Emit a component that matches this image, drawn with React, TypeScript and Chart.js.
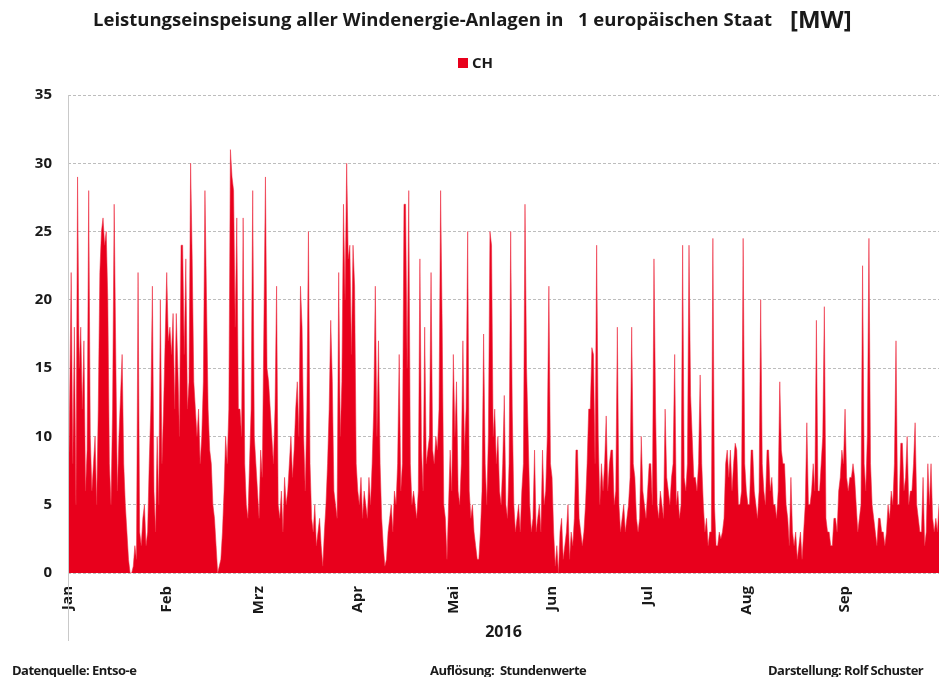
import React, { useEffect, useRef } from "react";
import { Chart, registerables } from "chart.js";

Chart.register(...registerables);

const chartTitle = "Leistungseinspeisung aller Windenergie-Anlagen in\u00a0\u00a0 1 europäischen Staat";
const unitLabel = "[MW]";
const seriesName = "CH";
const yearLabel = "2016";
const footerLeft = "Datenquelle: Entso-e";
const footerMid = "Auflösung:\u00a0 Stundenwerte";
const footerRight = "Darstellung: Rolf Schuster";

const monthLabels = ["Jan", "Feb", "Mrz", "Apr", "Mai", "Jun", "Jul", "Aug", "Sep"];
const monthStartDays = [0, 31, 60, 91, 121, 152, 182, 213, 244];
const periodEndDay = 273.5;
const yMin = 0;
const yMax = 35;
const yStep = 5;

// Two readings per day (first and second half of each day), MW
const jan = [
  3, 12, 22, 8, 18, 5, 29, 15, 18, 12, 17, 6, 9, 28, 10, 6, 8, 10, 5, 12,
  22, 25, 26, 24, 25, 20, 8, 5, 12, 27, 16, 6, 10, 13, 16, 8, 5, 3, 1, 0,
  0, 0.5, 2, 1, 22, 3, 2, 4, 5, 2, 3, 8, 12, 21, 6, 3, 10, 5, 20, 8,
  12, 17,
];
const feb = [
  22, 17, 18, 16, 19, 12, 19, 15, 10, 24, 24, 16, 23, 12, 14, 30, 23, 14, 12, 10,
  12, 8, 10, 14, 28, 20, 12, 9, 8, 5, 4, 2, 0, 0.5, 1, 3, 6, 10, 8, 12,
  31, 29, 28, 18, 26, 12, 12, 10, 26, 8, 5, 4, 8, 12, 28, 10, 8, 6,
];
const mar = [
  4, 9, 7, 18, 29, 15, 14, 12, 10, 8, 12, 21, 5, 4, 6, 3, 7, 5, 6, 8,
  10, 7, 9, 12, 14, 10, 21, 18, 10, 6, 12, 25, 8, 4, 3, 5, 2, 3, 4, 2,
  0.5, 3, 5, 8, 12, 18.5, 14, 6, 5, 4, 22, 10, 14, 27, 20, 30, 23, 24, 16, 24,
  21, 8,
];
const apr = [
  6, 5, 7, 4, 6, 5, 4, 7, 5, 8, 12, 21, 10, 17, 8, 4, 2, 0.5, 1, 3,
  4, 5, 3, 6, 5, 8, 16, 6, 8, 27, 27, 15, 28, 8, 5, 6, 5, 4, 6, 23,
  9, 6, 18, 8, 9, 10, 22, 9, 8, 10, 9, 12, 28, 18, 5, 4, 1, 5, 9, 6,
];
const mai = [
  16, 10, 14, 6, 5, 8, 17, 9, 12, 25, 6, 4, 5, 3, 2, 1, 1, 3, 6, 17.5,
  8, 5, 10, 25, 24, 10, 12, 8, 10, 6, 5, 8, 13, 5, 4, 8, 25, 12, 5, 3,
  4, 5, 3, 6, 8, 27, 15, 10, 5, 3, 4, 9, 3, 4, 5, 3, 9, 5, 6, 10,
  21, 8,
];
const jun = [
  7, 3, 0.5, 2, 0, 3, 4, 1, 2, 3, 5, 1, 3, 2, 4, 9, 9, 4, 3, 2,
  3, 5, 8, 12, 12, 16.5, 16, 8, 24, 10, 5, 8, 6, 8, 11.5, 6, 8, 9, 9, 5,
  6, 18, 5, 3, 4, 5, 3, 4, 5, 7, 18, 8, 7, 4, 3, 4, 10, 6, 5, 4,
];
const jul = [
  6, 8, 8, 5, 23, 12, 5, 4, 6, 5, 4, 12, 7, 6, 5, 7, 8, 16, 5, 6,
  4, 5, 24, 7, 6, 8, 24, 13, 10, 7, 7, 6, 8, 14.5, 8, 5, 3, 4, 2, 3,
  3, 24.5, 5, 2, 2, 3, 2.5, 3, 4, 8, 9, 7, 9, 6, 8, 9.5, 9, 5, 5, 6,
  24.5, 8,
];
const aug = [
  6, 5, 5, 9, 9, 6, 5, 4, 6, 20, 8, 6, 5, 9, 9, 6, 7, 5, 5, 4,
  6, 14, 9, 8, 8, 5, 4, 2, 7, 3, 2, 3, 1, 2, 3, 1, 3, 5, 11, 5,
  5, 6, 8, 6, 18.5, 6, 6, 8, 10, 19.5, 4, 3, 3, 2, 2, 4, 4, 3, 6, 7,
  9, 8,
];
const sep = [
  12, 7, 6, 7, 7, 8, 7, 5, 3, 4, 5, 22.5, 8, 6, 10, 24.5, 8, 5, 4, 3,
  2, 4, 4, 3, 3, 2, 3, 5, 4, 6, 5, 8, 17, 5, 5, 9.5, 9.5, 6, 7, 10,
  5, 6, 6, 8, 11, 5, 4, 3, 3, 7, 2, 3, 8, 5, 8, 4, 3, 4, 3, 5,
];

const monthSeries = [jan, feb, mar, apr, mai, jun, jul, aug, sep];

const FONT = '"Open Sans", "Liberation Sans", sans-serif';
const RED = "rgb(232, 0, 28)";

export default function App() {
  const canvasRef = useRef<HTMLCanvasElement | null>(null);

  useEffect(() => {
    document.body.style.margin = "0";
    const canvas = canvasRef.current;
    if (!canvas) return;

    const points = monthSeries.flatMap((arr, m) =>
      arr.map((v, i) => ({ x: monthStartDays[m] + i / 2, y: v }))
    );

    const axisLinePlugin = {
      id: "axisLine",
      afterDraw(chart: any) {
        const { ctx, chartArea } = chart;
        ctx.save();
        ctx.strokeStyle = "#c9c9c9";
        ctx.lineWidth = 1;
        ctx.beginPath();
        ctx.moveTo(Math.round(chartArea.left) + 0.5, chartArea.top);
        ctx.lineTo(Math.round(chartArea.left) + 0.5, chartArea.bottom + 68);
        ctx.stroke();
        ctx.restore();
      },
    };

    const chart = new Chart(canvas, {
      type: "line",
      data: {
        datasets: [
          {
            label: seriesName,
            data: points,
            fill: "origin",
            backgroundColor: RED,
            borderColor: "rgba(236, 40, 60, 0.55)",
            borderWidth: 1,
            pointRadius: 0,
            tension: 0,
          },
        ],
      },
      options: {
        animation: false,
        responsive: false,
        maintainAspectRatio: false,
        layout: { padding: { top: 95, left: 0, right: 0, bottom: 0 } },
        plugins: {
          legend: { display: false },
          title: { display: false },
          tooltip: { enabled: false },
        },
        scales: {
          x: {
            type: "linear",
            min: 0,
            max: periodEndDay,
            grid: { display: false },
            border: { display: false },
            afterBuildTicks: (scale: any) => {
              scale.ticks = monthStartDays.map((v) => ({ value: v }));
            },
            afterFit: (scale: any) => {
              scale.height = 104;
            },
            ticks: {
              autoSkip: false,
              minRotation: 90,
              maxRotation: 90,
              padding: 5,
              color: "#1a1a1a",
              font: { family: FONT, size: 15, weight: "bold" },
              callback: (value: any) => {
                const idx = monthStartDays.indexOf(Number(value));
                return idx >= 0 ? monthLabels[idx] : "";
              },
            },
            title: {
              display: true,
              text: yearLabel,
              color: "#1a1a1a",
              font: { family: FONT, size: 16, weight: "bold" },
              padding: { top: 0, bottom: 35 },
            },
          },
          y: {
            min: yMin,
            max: yMax,
            afterFit: (scale: any) => {
              scale.width = 68;
            },
            grid: {
              color: "#bdbdbd",
              lineWidth: 1,
              drawTicks: false,
            },
            border: { display: false, dash: [3, 2] },
            ticks: {
              stepSize: yStep,
              padding: 16,
              color: "#1a1a1a",
              font: { family: FONT, size: 15, weight: "bold" },
            },
          },
        },
      },
      plugins: [axisLinePlugin],
    } as any);

    return () => chart.destroy();
  }, []);

  const textBase: React.CSSProperties = {
    position: "absolute",
    whiteSpace: "nowrap",
    fontFamily: FONT,
    fontWeight: "bold",
    color: "#1a1a1a",
    lineHeight: 1,
  };
  const footerStyle: React.CSSProperties = { ...textBase, top: 664, fontSize: 13, letterSpacing: "-0.5px" };

  return (
    <div style={{ position: "relative", width: 939, height: 677, overflow: "hidden", background: "#fff" }}>
      <canvas ref={canvasRef} width={939} height={677} style={{ position: "absolute", left: 0, top: 0, width: 939, height: 677 }} />
      <div style={{ ...textBase, left: 93, top: 10, fontSize: 18.5 }}>{chartTitle}</div>
      <div style={{ ...textBase, left: 790, top: 7, fontSize: 24 }}>{unitLabel}</div>
      <div style={{ ...textBase, left: 458, top: 55, fontSize: 15, display: "flex", alignItems: "center" }}>
        <span style={{ display: "inline-block", width: 10, height: 10, background: RED, marginRight: 4 }} />
        <span>{seriesName}</span>
      </div>
      <div style={{ ...footerStyle, left: 12 }}>{footerLeft}</div>
      <div style={{ ...footerStyle, left: 430 }}>{footerMid}</div>
      <div style={{ ...footerStyle, left: 768 }}>{footerRight}</div>
    </div>
  );
}
